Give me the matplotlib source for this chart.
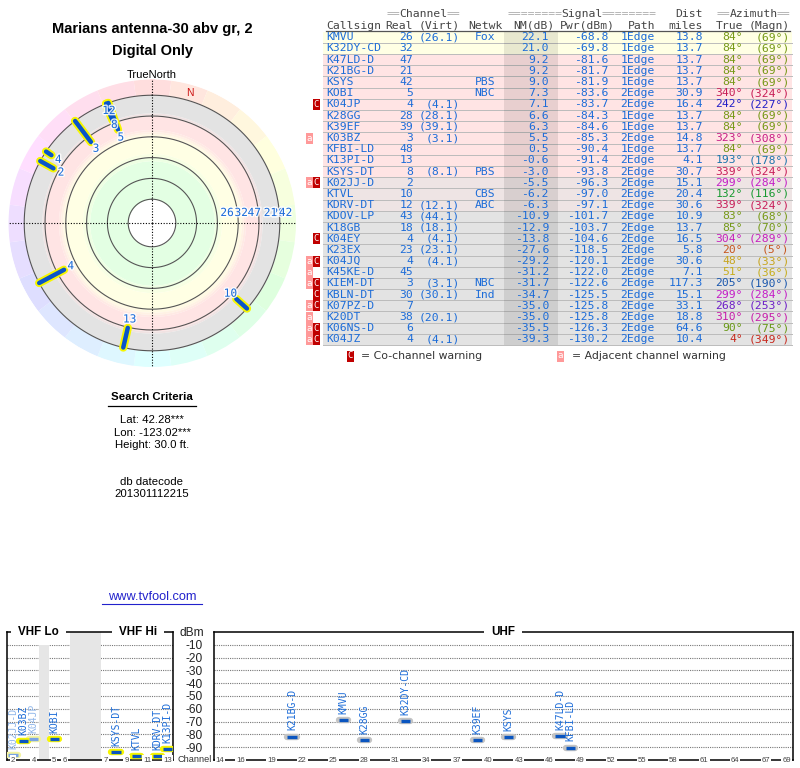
import numpy as np
import matplotlib
matplotlib.use('Agg')
import matplotlib.pyplot as plt
from matplotlib.colors import hsv_to_rgb
from matplotlib.patches import Rectangle
import matplotlib.patheffects as pe

# Table columns
callsign = ['KMVU', 'K32DY-CD', 'K47LD-D', 'K21BG-D', 'KSYS', 'KOBI', 'K04JP', 'K28GG', 'K39EF', 'K03BZ',
            'KFBI-LD', 'K13PI-D', 'KSYS-DT', 'K02JJ-D', 'KTVL', 'KDRV-DT', 'KDOV-LP', 'K18GB', 'K04EY', 'K23EX',
            'K04JQ', 'K45KE-D', 'KIEM-DT', 'KBLN-DT', 'K07PZ-D', 'K20DT', 'K06NS-D', 'K04JZ']
real = [26, 32, 47, 21, 42, 5, 4, 28, 39, 3, 48, 13, 8, 2, 10, 12, 43, 18, 4, 23, 4, 45, 3, 30, 7, 38, 6, 4]
virt = ['26.1', '', '', '', '', '', '4.1', '28.1', '39.1', '3.1', '', '', '8.1', '', '', '12.1', '44.1', '18.1',
        '4.1', '23.1', '4.1', '', '3.1', '30.1', '', '20.1', '', '4.1']
netwk = ['Fox', '', '', '', 'PBS', 'NBC', '', '', '', '', '', '', 'PBS', '', 'CBS', 'ABC', '', '', '', '', '', '',
         'NBC', 'Ind', '', '', '', '']
nm_db = [22.1, 21.0, 9.2, 9.2, 9.0, 7.3, 7.1, 6.6, 6.3, 5.5, 0.5, -0.6, -3.0, -5.5, -6.2, -6.3, -10.9, -12.9,
         -13.8, -27.6, -29.2, -31.2, -31.7, -34.7, -35.0, -35.0, -35.5, -39.3]
pwr_dbm = [-68.8, -69.8, -81.6, -81.7, -81.9, -83.6, -83.7, -84.3, -84.6, -85.3, -90.4, -91.4, -93.8, -96.3,
           -97.0, -97.1, -101.7, -103.7, -104.6, -118.5, -120.1, -122.0, -122.6, -125.5, -125.8, -125.8, -126.3,
           -130.2]
path = ['1Edge', '1Edge', '1Edge', '1Edge', '1Edge', '2Edge', '2Edge', '1Edge', '1Edge', '2Edge', '1Edge', '2Edge',
        '2Edge', '2Edge', '2Edge', '2Edge', '2Edge', '2Edge', '2Edge', '2Edge', '2Edge', '2Edge', '2Edge', '2Edge',
        '2Edge', '2Edge', '2Edge', '2Edge']
dist = [13.8, 13.7, 13.7, 13.7, 13.7, 30.9, 16.4, 13.7, 13.7, 14.8, 13.7, 4.1, 30.7, 15.1, 20.4, 30.6, 10.9, 13.7,
        16.5, 5.8, 30.6, 7.1, 117.3, 15.1, 33.1, 18.8, 64.6, 10.4]
az_true = [84, 84, 84, 84, 84, 340, 242, 84, 84, 323, 84, 193, 339, 299, 132, 339, 83, 85, 304, 20, 48, 51, 205,
           299, 268, 310, 90, 4]
az_magn = [69, 69, 69, 69, 69, 324, 227, 69, 69, 308, 69, 178, 324, 284, 116, 324, 68, 70, 289, 5, 33, 36, 190,
           284, 253, 295, 75, 349]
warn_co = ['K04JP', 'K02JJ-D', 'K04EY', 'K04JQ', 'KIEM-DT', 'KBLN-DT', 'K07PZ-D', 'K06NS-D', 'K04JZ']
warn_adj = ['K03BZ', 'K02JJ-D', 'K04JQ', 'K45KE-D', 'KIEM-DT', 'K07PZ-D', 'K20DT', 'K06NS-D', 'K04JZ']

# Radar
ring_levels = [80, 60, 40, 20, 0, -20]
radar_sticks = ['KOBI', 'K04JP', 'K03BZ', 'K13PI-D', 'KSYS-DT', 'K02JJ-D', 'KTVL', 'KDRV-DT', 'K04EY']
radar_label_nm = [15.4, 14.4, 13.5, 7.7, 1.9, 2.9, 1.3, -12.5, -5.8]
east_labels = ['28', '26', '32', '47', '21', '42']
east_label_nm = [-19, 30, 16.5, 4, -11.5, -26]
east_label_az = [85.5, 82.4, 83.6, 84.4, 85.2, 85.7]

# Spectrum
vhf_channels = [2, 3, 4, 5, 6, 7, 8, 9, 10, 11, 12, 13]
vhf_slots = [0, 1, 2, 4, 5, 9, 10, 11, 12, 13, 14, 15]
vhf_ticks = [2, 4, 5, 6, 7, 9, 11, 13]
uhf_ticks = [14, 16, 19, 22, 25, 28, 31, 34, 37, 40, 43, 46, 49, 52, 55, 58, 61, 64, 67, 69]
db_ticks = [-10, -20, -30, -40, -50, -60, -70, -80, -90]
spectrum_stations = ['KMVU', 'K32DY-CD', 'K47LD-D', 'K21BG-D', 'KSYS', 'KOBI', 'K04JP', 'K28GG', 'K39EF', 'K03BZ',
                     'KFBI-LD', 'K13PI-D', 'KSYS-DT', 'K02JJ-D', 'KTVL', 'KDRV-DT']
faded = ['K04JP', 'K02JJ-D']

BLUE = '#1c6cd8'
SANS = 'Liberation Sans'
MONO = 'DejaVu Sans Mono'


def px_axes(left, top, right, bottom, **kw):
    # axes from pixel box of the 800x768 picture
    return fig.add_axes([left / 800, 1 - bottom / 768, (right - left) / 800, (bottom - top) / 768], **kw)


def az_color(az):
    # greens, yellows and the teal blues are darker in the table
    v = 0.6 if 55 < az < 180 else 0.68 if 180 <= az < 225 else 0.78
    return hsv_to_rgb(((az - 8 if 55 < az < 110 else az + 10 if 180 <= az < 225 else az) / 360 % 1, 0.85, v))


fig = plt.figure(figsize=(8, 7.68), dpi=100)

# ---------- radar ----------
radar = px_axes(8, 79, 296, 367, projection='polar')
radar.set_theta_zero_location('N')
radar.set_theta_direction(-1)
radar.set_ylim(102.9, -35.6)
radar.axis('off')

theta = np.linspace(0, 2 * np.pi, 361)
for sector in range(24):
    start = np.radians(sector * 15 - 7.5)
    t = np.linspace(start, start + np.radians(15), 8)
    radar.fill_between(t, -20, -35.6, color=hsv_to_rgb((sector / 24, 0.13, 1)), lw=0, zorder=1)

# soft bands, dB edges
band_edges = [80, 43, 39, 36, 20, 17, 15, 13, -1, -3, -20]
band_colors = ['#e3ffe3', '#eeffe3', '#f8ffe3', '#ffffe4', '#fffae4', '#fff2e4', '#ffeae4', '#ffe4e4', '#f0e3e3',
               '#e3e3e3']
radar.fill_between(theta, 102.9, 80, color='white', lw=0, zorder=1)
for i, col in enumerate(band_colors):
    radar.fill_between(theta, band_edges[i], band_edges[i + 1], color=col, lw=0, zorder=1)
for level in ring_levels:
    radar.plot(theta, np.full_like(theta, level), color='#555555', lw=0.8, zorder=2)
for a in [0, 90, 180, 270]:
    radar.plot(np.radians([a, a]), [102.9, -35.6], color='black', lw=0.8, ls=(0, (1, 1.5)), zorder=3)

halo = [pe.withStroke(linewidth=2, foreground='white', alpha=0.85)]
for name in radar_sticks:
    i = callsign.index(name)
    az = np.radians(az_true[i])
    radar.plot([az, az], [nm_db[i], -20], color='#f6f600', lw=6, solid_capstyle='round', zorder=4)
for name, lab_nm in zip(radar_sticks, radar_label_nm):
    i = callsign.index(name)
    az = np.radians(az_true[i])
    radar.plot([az, az], [nm_db[i], -20], color='#0a55c8', lw=3.2, solid_capstyle='round', zorder=5)
    radar.text(az, lab_nm, str(real[i]), color=BLUE, fontsize=8, family=MONO, ha='center', va='center', zorder=6,
               path_effects=halo)
for lab, lab_nm, a in zip(east_labels, east_label_nm, east_label_az):
    radar.text(np.radians(a), lab_nm, lab, color=BLUE, fontsize=8, family=MONO, ha='center', va='center', zorder=6,
               path_effects=halo)
radar.text(np.radians(16), -27.6, 'N', color='#cc1111', fontsize=7.5, family=SANS, ha='center', va='center', zorder=6)

# ---------- overlay for table and page text, pixel coordinates ----------
page = px_axes(0, 0, 800, 768)
page.set_xlim(0, 800)
page.set_ylim(768, 0)
page.axis('off')
page.patch.set_alpha(0)
page.set_zorder(5)

page.text(152, 29, 'Marians antenna-30 abv gr, 2', family=SANS, weight='bold', fontsize=10.5, ha='center', va='center')
page.text(152, 51, 'Digital Only', family=SANS, weight='bold', fontsize=10.5, ha='center', va='center')
page.text(152, 74.5, 'TrueNorth', family=SANS, fontsize=8, ha='center', va='center')
page.text(152, 397.5, 'Search Criteria', family=SANS, weight='bold', fontsize=8.2, ha='center', va='center')
page.plot([108, 195.5], [405.5, 405.5], color='black', lw=0.9)
search_lines = ['Lat: 42.28***', 'Lon: -123.02***', 'Height: 30.0 ft.', 'db datecode', '201301112215']
search_y = [420, 433, 445, 482, 494]
for line, y in zip(search_lines, search_y):
    page.text(152, y, line, family=SANS, fontsize=8.2, ha='center', va='center')
page.text(152, 597.5, 'www.tvfool.com', family=SANS, fontsize=9.2, color='#2222cc', ha='center', va='center')
page.plot([102, 202], [604, 604], color='#2222cc', lw=0.8)

# table header
HEAD = '#444444'
GRAY = '#aaaaaa'
font = dict(family=MONO, fontsize=8.2, va='center')
for x, s in [(387, '=='), (447, '=='), (508, '========'), (601.7, '========'), (717, '=='), (777, '==')]:
    page.text(x, 14, s, color=GRAY, ha='left', **font)
page.text(423.5, 14, 'Channel', color=HEAD, ha='center', **font)
page.text(581.7, 14, 'Signal', color=HEAD, ha='center', **font)
page.text(703, 14, 'Dist', color=HEAD, ha='right', **font)
page.text(753.5, 14, 'Azimuth', color=HEAD, ha='center', **font)
head_x = [326, 413, 460, 468, 555, 615, 655, 703, 743, 790]
head_ha = ['left', 'right', 'right', 'left', 'right', 'right', 'right', 'right', 'right', 'right']
head_txt = ['Callsign', 'Real', '(Virt)', 'Netwk', 'NM(dB)', 'Pwr(dBm)', 'Path', 'miles', 'True', '(Magn)']
for x, ha, s in zip(head_x, head_ha, head_txt):
    page.text(x, 25.7, s, color=HEAD, ha=ha, **font)
page.plot([326, 790], [30.5, 30.5], color='#555555', lw=0.9)

# table rows
ROW0 = 37.3
ROW_H = 11.19
for i, name in enumerate(callsign):
    y = ROW0 + i * ROW_H
    if nm_db[i] >= 15:
        bg = '#ffffe4'
    elif nm_db[i] >= -5:
        bg = '#ffe4e4'
    elif nm_db[i] >= -10:
        bg = '#eee4e4'
    else:
        bg = '#e3e3e3'
    page.add_patch(Rectangle((323, y - ROW_H / 2), 469, ROW_H, color=bg, lw=0, zorder=1))
    page.plot([323, 792], [y + ROW_H / 2, y + ROW_H / 2], color='#bbbbbb', lw=0.7, zorder=1.5)
    vals = [real[i], f'({virt[i]})' if virt[i] else '', netwk[i], f'{nm_db[i]:.1f}', f'{pwr_dbm[i]:.1f}', path[i],
            f'{dist[i]:.1f}']
    page.text(326, y, name, color=BLUE, ha='left', zorder=3, **font)
    for x, ha, v in zip([413, 460, 474.5, 549, 608, 655, 703], ['right', 'right', 'left', 'right', 'right', 'right',
                                                              'right'], vals):
        page.text(x, y, str(v), color=BLUE, ha=ha, zorder=3, **font)
    col = az_color(az_true[i])
    page.text(743, y, f'{az_true[i]}°', color=col, ha='right', zorder=3, **font)
    page.text(789.5, y, f'({az_magn[i]}°)', color=col, ha='right', zorder=3, **font)
    if name in warn_co:
        page.add_patch(Rectangle((313, y - 5.5), 6.5, 11, color='#c00000', lw=0))
        page.text(316.2, y, 'C', color='white', family=MONO, fontsize=6.5, ha='center', va='center')
    if name in warn_adj:
        page.add_patch(Rectangle((306, y - 5.5), 6.5, 11, color='#ff9999', lw=0))
        page.text(309.2, y, 'a', color='white', family=MONO, fontsize=6.5, ha='center', va='center')
page.add_patch(Rectangle((504, ROW0 - ROW_H / 2), 54, 28 * ROW_H, color='black', alpha=0.09, lw=0, zorder=2))

# warning legend
page.add_patch(Rectangle((347, 350.5), 6.5, 11, color='#c00000', lw=0))
page.text(350.2, 356, 'C', color='white', family=MONO, fontsize=6.5, ha='center', va='center')
page.text(361, 356, '= Co-channel warning', color='#333333', family='DejaVu Sans', fontsize=7.8, ha='left', va='center')
page.add_patch(Rectangle((557, 350.5), 6.5, 11, color='#ff9999', lw=0))
page.text(560.2, 356, 'a', color='white', family=MONO, fontsize=6.5, ha='center', va='center')
page.text(571.7, 356, '= Adjacent channel warning', color='#333333', family='DejaVu Sans', fontsize=7.8, ha='left',
          va='center')

# ---------- spectrum panels ----------
vhf = px_axes(7, 632, 173, 760)
uhf = px_axes(214, 632, 792.7, 760)
vhf.set_xlim(-0.58, 15.53)
uhf.set_xlim(13.42, 69.6)
vhf.axvspan(2.5, 3.5, color='#e6e6e6', lw=0)
vhf.axvspan(5.5, 8.5, color='#e6e6e6', lw=0)
for ax in (vhf, uhf):
    ax.set_ylim(-100, 0)
    ax.set_yticks(db_ticks)
    ax.set_xticks([])
    ax.grid(axis='y', color='#777777', lw=0.8, ls=(0, (1, 1)))
    ax.set_axisbelow(True)
    ax.tick_params(axis='y', length=0)
    for side in ax.spines.values():
        side.set_linewidth(1.1)
vhf.set_yticklabels([])
uhf.set_yticklabels([str(v) for v in db_ticks], family=SANS, fontsize=8.6, color='#222222')
uhf.tick_params(axis='y', pad=8)

for name in spectrum_stations:
    i = callsign.index(name)
    ch = real[i]
    is_vhf = ch <= 13
    ax = vhf if is_vhf else uhf
    x = vhf_slots[vhf_channels.index(ch)] if is_vhf else ch
    half = 0.45
    pale = name in faded
    halo_col = ('#f4f4a0' if pale else '#f6f600') if is_vhf else '#c4c4c4'
    ax.plot([x - half, x + half], [pwr_dbm[i], pwr_dbm[i]], color=halo_col, lw=4.6, solid_capstyle='round', zorder=3)
    ax.plot([x - half, x + half], [pwr_dbm[i], pwr_dbm[i]], color='#7aa4e4' if pale else '#0a55c0', lw=2.4,
            solid_capstyle='butt', zorder=4)
    ax.annotate(name, (x, pwr_dbm[i]), xytext=(0, 4.5), textcoords='offset points', rotation=90, ha='center',
                va='bottom', family=MONO, fontsize=7, color='#8fb6ea' if pale else BLUE, zorder=5)

# labels sitting on the panel borders
tick_box = dict(facecolor='white', edgecolor='none', pad=0.8)
for ax, ticks in ((vhf, vhf_ticks), (uhf, uhf_ticks)):
    for ch in ticks:
        x = vhf_slots[vhf_channels.index(ch)] if ax is vhf else ch
        ax.text(x, -100, str(ch), family=SANS, fontsize=5.6, color='#444444', ha='center', va='center', bbox=tick_box,
                clip_on=False, zorder=6)
title_box = dict(facecolor='white', edgecolor='none', pad=5)
vhf.text(2.5, 0, 'VHF Lo', family=SANS, weight='bold', fontsize=8.4, ha='center', va='center', bbox=title_box,
         clip_on=False, zorder=6)
vhf.text(12.1, 0, 'VHF Hi', family=SANS, weight='bold', fontsize=8.4, ha='center', va='center', bbox=title_box,
         clip_on=False, zorder=6)
uhf.text(41.5, 0, 'UHF', family=SANS, weight='bold', fontsize=8.4, ha='center', va='center', bbox=title_box,
         clip_on=False, zorder=6)
page.text(192, 632.5, 'dBm', family=SANS, fontsize=8.6, color='#222222', ha='center', va='center')
page.text(194.5, 759, 'Channel', family=SANS, fontsize=6.6, color='#333333', ha='center', va='center')

fig.savefig('out.png', dpi=100)
